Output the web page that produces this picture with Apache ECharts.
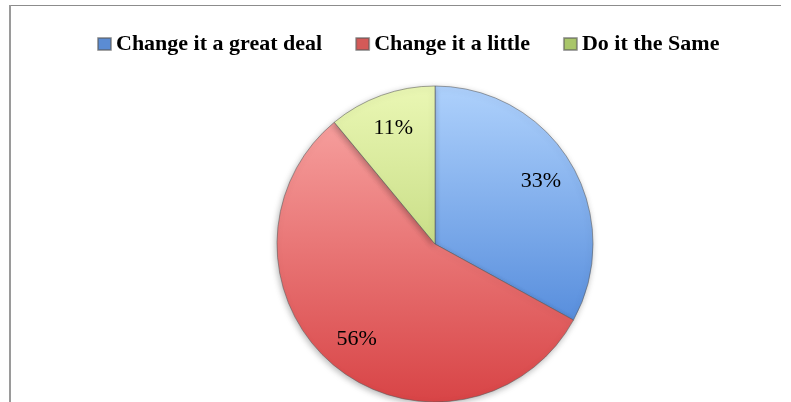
<!DOCTYPE html>
<html>
<head>
<meta charset="utf-8">
<script src="https://cdn.jsdelivr.net/npm/echarts@6/dist/echarts.min.js"></script>
<style>
  html, body { margin: 0; padding: 0; background: #ffffff; }
  #chart { width: 791px; height: 402px; }
</style>
</head>
<body>
<div id="chart"></div>
<script>
// Answers and their shares (percent)
const categories = ['Change it a great deal', 'Change it a little', 'Do it the Same'];
const shares = [33, 56, 11];

// Slice fills: light at the top of the pie, deeper toward the bottom
const topColors = ['#aed1fc', '#faaaa8', '#eaf7b4'];
const bottomColors = ['#3a77d2', '#d84446', '#a9c65c'];
const legendColors = ['#5b8cd3', '#d45a58', '#a9c66a'];

const CENTER = [435, 244];
const RADIUS = 158;

const chart = echarts.init(document.getElementById('chart'), null, { renderer: 'canvas' });

function fill(i) {
  return {
    type: 'linear', x: 0, y: CENTER[1] - RADIUS, x2: 0, y2: CENTER[1] + RADIUS, global: true,
    colorStops: [
      { offset: 0, color: topColors[i] },
      { offset: 1, color: bottomColors[i] }
    ]
  };
}

const sliceData = categories.map((name, i) => ({
  name: name,
  value: shares[i],
  itemStyle: { color: fill(i) }
}));

// Transparent twin whose "inside" labels land at ~0.77 of the visible radius
const labelData = categories.map((name, i) => ({ name: name, value: shares[i] }));

chart.setOption({
  animation: false,
  backgroundColor: '#ffffff',
  legend: {
    top: 28,
    left: 92,
    itemGap: 33,
    itemWidth: 13,
    itemHeight: 12,
    icon: 'rect',
    selectedMode: false,
    data: categories.map((name, i) => ({ name: name, itemStyle: { color: legendColors[i] } })),
    textStyle: {
      fontFamily: 'Liberation Serif',
      fontWeight: 'bold',
      fontSize: 22,
      color: '#000000'
    }
  },
  graphic: [
    { type: 'line', shape: { x1: 9, y1: 5.5, x2: 781, y2: 5.5 }, style: { stroke: '#8c8c8c', lineWidth: 1 }, silent: true },
    { type: 'line', shape: { x1: 10, y1: 5, x2: 10, y2: 402 }, style: { stroke: '#9a9a9a', lineWidth: 2 }, silent: true }
  ],
  series: [
    {
      type: 'pie',
      center: CENTER,
      radius: [0, RADIUS],
      startAngle: 90,
      clockwise: true,
      label: { show: false },
      labelLine: { show: false },
      emphasis: { disabled: true },
      silent: true,
      itemStyle: {
        borderColor: 'rgba(90,90,90,0.55)',
        borderWidth: 1,
        shadowBlur: 6,
        shadowOffsetX: -1,
        shadowOffsetY: 2,
        shadowColor: 'rgba(0,0,0,0.28)'
      },
      data: sliceData
    },
    {
      type: 'pie',
      center: CENTER,
      radius: [0, RADIUS * 1.52],
      startAngle: 90,
      clockwise: true,
      z: 5,
      silent: true,
      emphasis: { disabled: true },
      itemStyle: { color: 'rgba(0,0,0,0)' },
      labelLine: { show: false },
      label: {
        show: true,
        position: 'inside',
        formatter: '{c}%',
        fontFamily: 'Liberation Serif',
        fontSize: 22,
        color: '#000000'
      },
      data: labelData
    }
  ]
});
</script>
</body>
</html>
